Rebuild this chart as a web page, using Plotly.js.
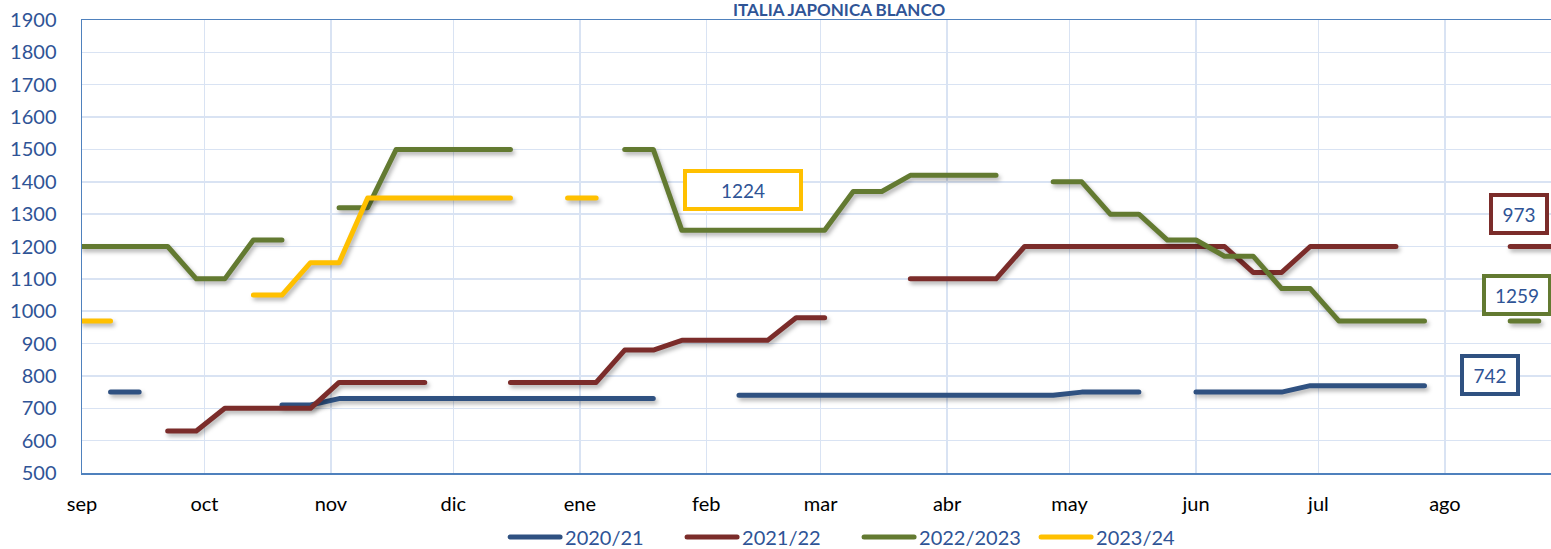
<!DOCTYPE html>
<html>
<head>
<meta charset="utf-8">
<script src="https://cdn.plot.ly/plotly-3.0.1.min.js"></script>
<style>
  html, body { margin: 0; padding: 0; background: #ffffff; }
  #chart { width: 1551px; height: 549px; }
  .scatterlayer .js-line { stroke-linecap: round; stroke-linejoin: round; filter: drop-shadow(2px 3px 2px rgba(0,0,0,0.30)); }
  .legendlines path { stroke-linecap: round; }
</style>
</head>
<body>
<div id="chart"></div>
<script>
// ---- data (weekly observations, season starting 1 September) ----
const seasonStart = '2022-09-01';
const weekCount = 53;

const monthTickDates = ['2022-09-01','2022-10-01','2022-11-01','2022-12-01','2023-01-01','2023-02-01',
                        '2023-03-01','2023-04-01','2023-05-01','2023-06-01','2023-07-01','2023-08-01'];
const monthLabels = ['sep','oct','nov','dic','ene','feb','mar','abr','may','jun','jul','ago'];

const seriesNames = ['2020/21', '2021/22', '2022/2023', '2023/24'];

const s2020_21 = [null, 750, 750, null, null, null, null, 710, 710,
  730, 730, 730, 730, 730, 730, 730, 730, 730, 730, 730, 730,
  null, null,
  740, 740, 740, 740, 740, 740, 740, 740, 740, 740, 740, 740,
  750, 750, 750, null, 750, 750, 750, 750,
  770, 770, 770, 770, 770,
  null, null, null, null, null];

const s2021_22 = [null, null, null, 630, 630, 700, 700, 700, 700,
  780, 780, 780, 780, null, null, 780, 780, 780, 780,
  880, 880, 910, 910, 910, 910, 980, 980, null, null,
  1100, 1100, 1100, 1100,
  1200, 1200, 1200, 1200, 1200, 1200, 1200, 1200,
  1120, 1120, 1200, 1200, 1200, 1200,
  null, null, null, 1200, 1200, 1200];

const s2022_23 = [1200, 1200, 1200, 1200, 1100, 1100, 1220, 1220, null,
  1320, 1320, 1500, 1500, 1500, 1500, 1500, null, null, null,
  1500, 1500, 1250, 1250, 1250, 1250, 1250, 1250,
  1370, 1370, 1420, 1420, 1420, 1420, null,
  1400, 1400, 1300, 1300, 1220, 1220, 1170, 1170, 1070, 1070,
  970, 970, 970, 970, null, null, 970, 970, null];

const s2023_24 = [970, 970, null, null, null, null, 1050, 1050, 1150, 1150,
  1350, 1350, 1350, 1350, 1350, 1350, null, 1350, 1350,
  null, null, null, null, null, null, null, null, null, null, null, null, null, null, null,
  null, null, null, null, null, null, null, null, null, null, null, null, null, null, null,
  null, null, null, null];

const boxLabels = ['1224', '973', '1259', '742'];

const seriesColors = ['#2F5181', '#7B2C2A', '#637A31', '#FFC000'];

// weekly x positions (dates)
const weekDates = [];
(function () {
  const d0 = new Date(seasonStart + 'T00:00:00Z');
  for (let k = 0; k < weekCount; k++) {
    const d = new Date(d0.getTime() + k * 7 * 86400000);
    weekDates.push(d.toISOString().slice(0, 10));
  }
})();

const allSeries = [s2020_21, s2021_22, s2022_23, s2023_24];
const traces = allSeries.map((vals, i) => ({
  type: 'scatter',
  mode: 'lines',
  name: seriesNames[i],
  x: weekDates,
  y: vals,
  connectgaps: false,
  line: { color: seriesColors[i], width: 5 },
  hoverinfo: 'x+y+name'
}));

const textBlue = '#2F5496';
const boxSpec = [
  { text: boxLabels[0], color: seriesColors[3], x: 0.4500, y: 0.6247, w: 108 },
  { text: boxLabels[1], color: seriesColors[1], x: 0.9779, y: 0.5717, w: 48 },
  { text: boxLabels[2], color: seriesColors[2], x: 0.9769, y: 0.3929, w: 58 },
  { text: boxLabels[3], color: seriesColors[0], x: 0.9585, y: 0.2163, w: 48 }
];
const annotations = boxSpec.map(b => ({
  xref: 'paper', yref: 'paper', x: b.x, y: b.y,
  xanchor: 'center', yanchor: 'middle',
  text: b.text, showarrow: false,
  font: { family: 'Lato, sans-serif', size: 19, color: textBlue },
  bgcolor: '#ffffff', bordercolor: b.color, borderwidth: 4, borderpad: 2,
  width: b.w, height: 30
}));

const layout = {
  width: 1551, height: 549,
  margin: { l: 82, r: 0, t: 20, b: 76, autoexpand: false },
  paper_bgcolor: '#ffffff', plot_bgcolor: '#ffffff',
  font: { family: 'Lato, sans-serif', size: 20, color: textBlue },
  title: {
    text: 'ITALIA JAPONICA BLANCO',
    font: { family: 'Lato, sans-serif', size: 17, color: '#2F5496', weight: 'bold' },
    x: 0.541, xref: 'container', xanchor: 'center',
    y: 0.982, yref: 'container', yanchor: 'middle'
  },
  showlegend: true,
  legend: {
    orientation: 'h', x: 0.288, xanchor: 'left',
    yref: 'container', y: 0.022, yanchor: 'middle',
    font: { family: 'Lato, sans-serif', size: 20, color: textBlue },
    itemwidth: 50, entrywidth: 112, traceorder: 'normal', bgcolor: 'rgba(0,0,0,0)'
  },
  xaxis: {
    type: 'date',
    range: ['2022-09-01', '2023-08-27'],
    tickvals: monthTickDates,
    ticktext: monthLabels,
    tickfont: { family: 'Lato, sans-serif', size: 20, color: '#000000' },
    ticks: '', ticklabelstandoff: 12,
    showgrid: true, gridcolor: '#D9E3F3', gridwidth: 1.5,
    showline: true, linecolor: '#4F81BD', linewidth: 1.5, mirror: true,
    zeroline: false, fixedrange: true, automargin: false
  },
  yaxis: {
    range: [500, 1900], dtick: 100, tick0: 500,
    tickfont: { family: 'Lato, sans-serif', size: 20, color: textBlue },
    ticks: '', ticklabelstandoff: 20,
    showgrid: true, gridcolor: '#D9E3F3', gridwidth: 1.5,
    showline: true, linecolor: '#4F81BD', linewidth: 1.5,
    zeroline: false, fixedrange: true, automargin: false
  },
  annotations: annotations
};

Plotly.newPlot('chart', traces, layout, { displayModeBar: false, staticPlot: true });
</script>
</body>
</html>
